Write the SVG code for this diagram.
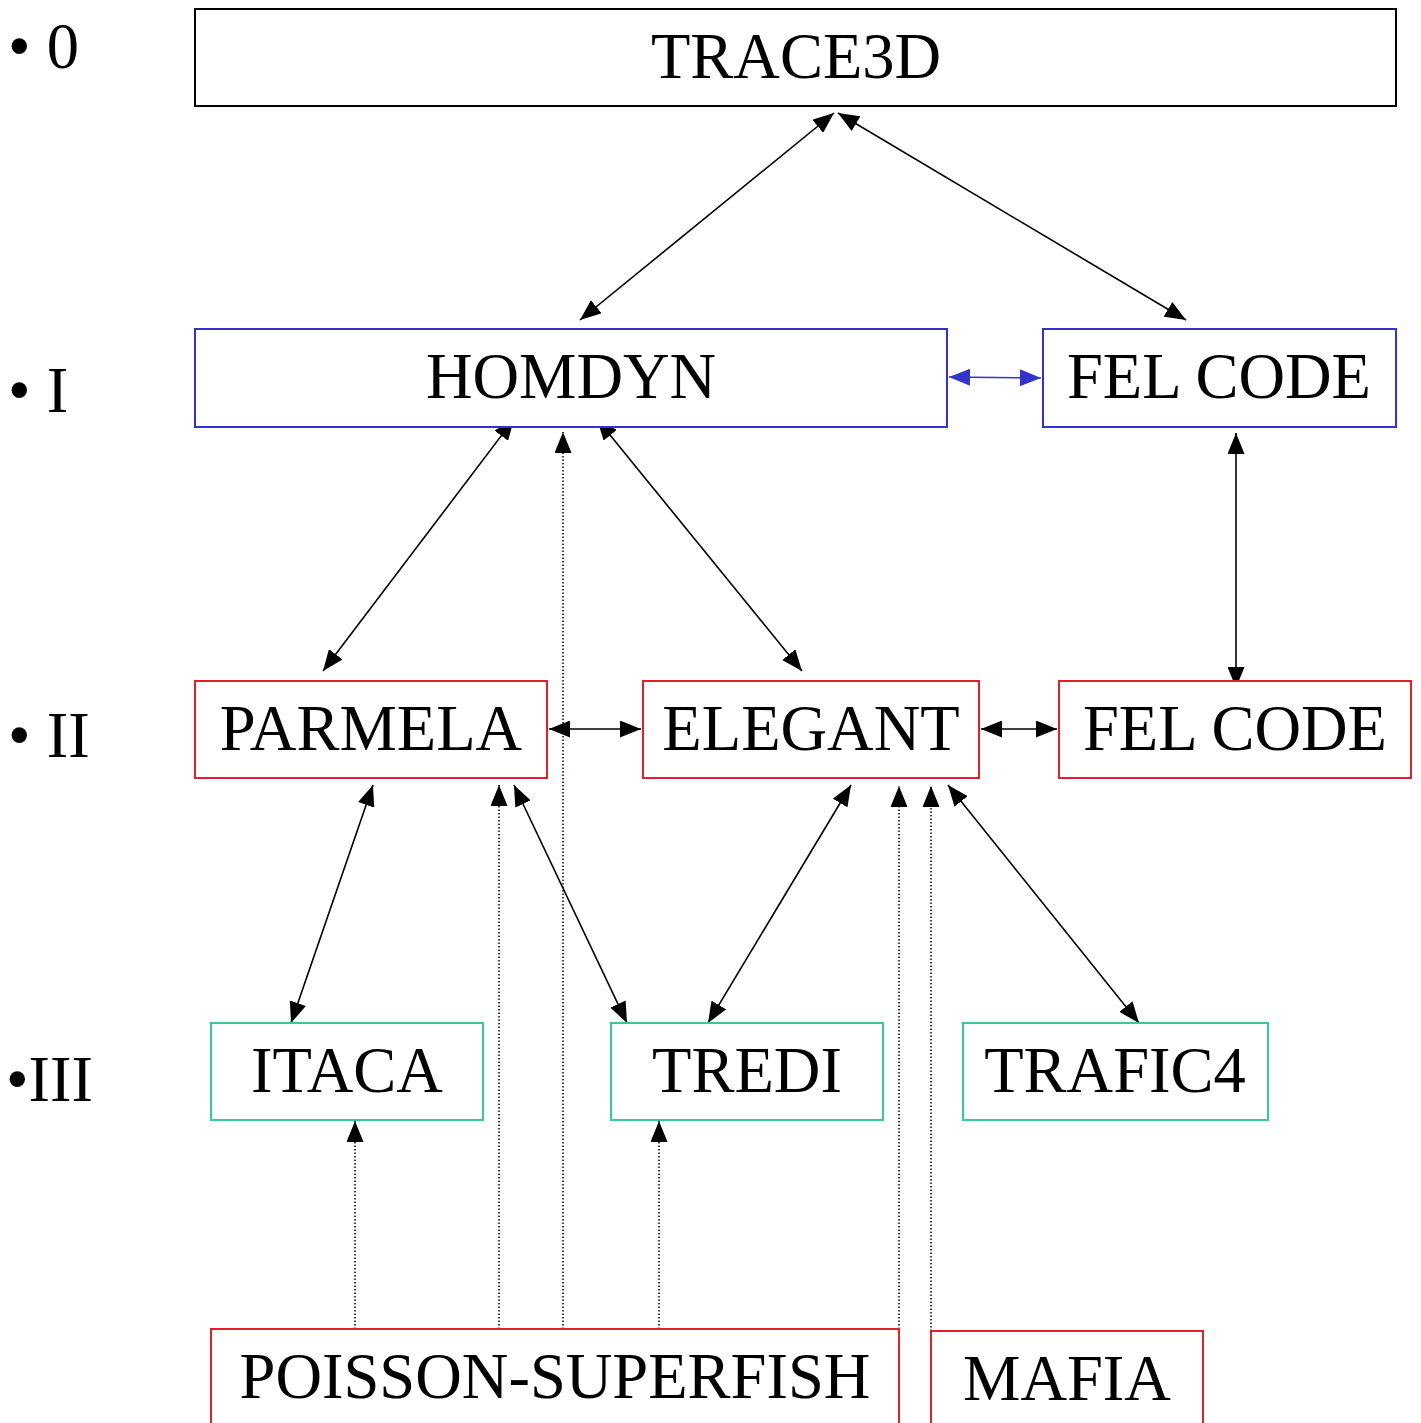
<svg xmlns="http://www.w3.org/2000/svg" width="1421" height="1423" viewBox="0 0 1421 1423">
<style>
text{font-family:"Liberation Serif","Times New Roman",serif;font-size:64.5px;fill:#000}
.lbl{text-anchor:middle}
.box{fill:#fff;stroke-width:2}
.k{stroke:#000}.b{stroke:#3333CC}.r{stroke:#E0202A}.g{stroke:#33CC99}
.c{stroke:#000;stroke-width:1.6;fill:none;marker-start:url(#ah);marker-end:url(#ah)}
.cb{stroke:#3333CC;stroke-width:1.6;fill:none;marker-start:url(#ahb);marker-end:url(#ahb)}
.d{stroke:#000;stroke-width:1.5;fill:none;stroke-dasharray:1.5 2;marker-end:url(#ah)}
</style>
<defs>
<marker id="ah" viewBox="0 0 21 17" refX="21" refY="8.5" markerWidth="21" markerHeight="17" markerUnits="userSpaceOnUse" orient="auto-start-reverse"><path d="M0,0L21,8.5L0,17z" fill="#000"/></marker>
<marker id="ahb" viewBox="0 0 21 17" refX="21" refY="8.5" markerWidth="21" markerHeight="17" markerUnits="userSpaceOnUse" orient="auto-start-reverse"><path d="M0,0L21,8.5L0,17z" fill="#3333CC"/></marker>
</defs>
<rect width="1421" height="1423" fill="#fff"/>
<g id="levels">
<text x="8" y="68">• 0</text>
<text x="8" y="412">• I</text>
<text x="8" y="757">• II</text>
<text x="6" y="1101">•III</text>
</g>
<g id="connectors">
<line class="c" x1="834" y1="113" x2="580" y2="320"/>
<line class="c" x1="838" y1="113" x2="1186" y2="320"/>
<line class="cb" x1="949" y1="377" x2="1041" y2="378"/>
<line class="c" x1="1236" y1="433" x2="1236" y2="688"/>
<line class="c" x1="514" y1="419" x2="323" y2="671"/>
<line class="c" x1="597" y1="419" x2="802" y2="671"/>
<line class="c" x1="549" y1="729" x2="641" y2="729"/>
<line class="c" x1="981" y1="729" x2="1057" y2="729"/>
<line class="c" x1="373" y1="785" x2="291" y2="1023"/>
<line class="c" x1="514" y1="785" x2="627" y2="1023"/>
<line class="c" x1="851" y1="785" x2="708" y2="1023"/>
<line class="c" x1="948" y1="785" x2="1139" y2="1023"/>
<line class="d" x1="563" y1="1329" x2="563" y2="432"/>
<line class="d" x1="499" y1="1329" x2="499" y2="785"/>
<line class="d" x1="899" y1="1329" x2="899" y2="786"/>
<line class="d" x1="931" y1="1331" x2="931" y2="786"/>
<line class="d" x1="355" y1="1329" x2="355" y2="1121"/>
<line class="d" x1="659" y1="1329" x2="659" y2="1121"/>
</g>
<g id="trace3d"><rect class="box k" x="195" y="9" width="1201" height="97"/><text class="lbl" x="796" y="78">TRACE3D</text></g>
<g id="homdyn"><rect class="box b" x="195" y="329" width="752" height="98"/><text class="lbl" x="571" y="398">HOMDYN</text></g>
<g id="felcode1"><rect class="box b" x="1043" y="329" width="353" height="98"/><text class="lbl" x="1219" y="398">FEL CODE</text></g>
<g id="parmela"><rect class="box r" x="195" y="681" width="352" height="97"/><text class="lbl" x="371" y="750">PARMELA</text></g>
<g id="elegant"><rect class="box r" x="643" y="681" width="336" height="97"/><text class="lbl" x="811" y="750">ELEGANT</text></g>
<g id="felcode2"><rect class="box r" x="1059" y="681" width="352" height="97"/><text class="lbl" x="1235" y="750">FEL CODE</text></g>
<g id="itaca"><rect class="box g" x="211" y="1023" width="272" height="97"/><text class="lbl" x="347" y="1092">ITACA</text></g>
<g id="tredi"><rect class="box g" x="611" y="1023" width="272" height="97"/><text class="lbl" x="747" y="1092">TREDI</text></g>
<g id="trafic4"><rect class="box g" x="963" y="1023" width="305" height="97"/><text class="lbl" x="1115" y="1092">TRAFIC4</text></g>
<g id="poisson"><rect class="box r" x="211" y="1329" width="688" height="110"/><text class="lbl" x="555" y="1398">POISSON-SUPERFISH</text></g>
<g id="mafia"><rect class="box r" x="931" y="1331" width="272" height="110"/><text class="lbl" x="1067" y="1400">MAFIA</text></g>
</svg>
